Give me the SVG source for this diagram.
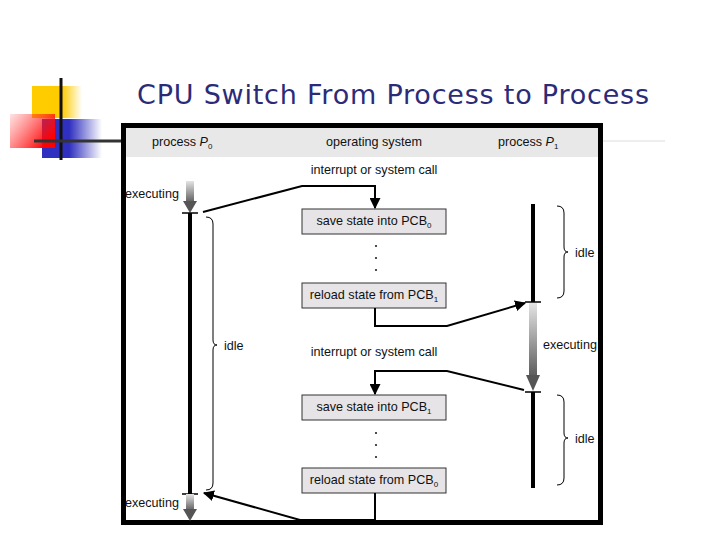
<svg xmlns="http://www.w3.org/2000/svg" width="720" height="540" viewBox="0 0 720 540">
<defs>
<style>
.t{font-family:"Liberation Sans",Arial,sans-serif;font-size:12.6px;fill:#111}
.tc{text-anchor:middle}
.box{fill:#e6e4e6;stroke:#333;stroke-width:1}
.conn{fill:none;stroke:#000;stroke-width:2}
.tl{stroke:#000;stroke-width:4}
.tick{stroke:#000;stroke-width:1.5}
.br{fill:none;stroke:#000;stroke-width:1}
.bar{fill:url(#gbar)}
.head{fill:#555}
</style>
<linearGradient id="gbar" x1="0" y1="0" x2="0" y2="1">
<stop offset="0" stop-color="#e4e4e4"/><stop offset="1" stop-color="#5a5a5a"/>
</linearGradient>
<linearGradient id="gy" x1="0" y1="0" x2="1" y2="0">
<stop offset="0" stop-color="#ffcc00"/><stop offset="0.6" stop-color="#ffcc00"/><stop offset="1" stop-color="#ffcc00" stop-opacity="0"/>
</linearGradient>
<linearGradient id="gb" x1="0" y1="0" x2="1" y2="0">
<stop offset="0" stop-color="#2f2fc0"/><stop offset="0.45" stop-color="#2f2fc0"/><stop offset="1" stop-color="#2f2fc0" stop-opacity="0"/>
</linearGradient>
<linearGradient id="gr" x1="0" y1="0" x2="1" y2="0.6">
<stop offset="0" stop-color="#ff4040" stop-opacity="0.15"/><stop offset="1" stop-color="#ff0000"/>
</linearGradient>
<marker id="ah" viewBox="0 0 10 10" refX="9" refY="5" markerWidth="5.5" markerHeight="5.5" orient="auto" markerUnits="strokeWidth">
<path d="M0,0 L10,5 L0,10 Z" fill="#000"/>
</marker>
</defs>
<rect width="720" height="540" fill="#fff"/>
<g id="logo">
<rect x="32" y="86" width="50" height="32" fill="url(#gy)"/>
<rect x="42" y="119" width="60" height="39" fill="url(#gb)"/>
<rect x="10" y="114" width="45" height="34" fill="url(#gr)"/>
<line x1="61" y1="78" x2="61" y2="160" stroke="#111" stroke-width="3"/>
<line x1="34" y1="141" x2="122" y2="141" stroke="#333" stroke-width="3"/>
<line x1="603" y1="141" x2="665" y2="141" stroke="#eee" stroke-width="2"/>
</g>
<text id="title" x="137" y="104" font-family="'DejaVu Sans',Verdana,sans-serif" font-size="27" fill="#2b2b78" textLength="512">CPU Switch From Process to Process</text>
<g id="frame">
<rect x="126" y="128" width="472" height="29" fill="#e8e8e8"/>
<rect x="123.5" y="125.5" width="477" height="397" fill="none" stroke="#000" stroke-width="5"/>
<text class="t" x="152" y="146">process <tspan font-style="italic">P</tspan><tspan font-size="8" dy="3">0</tspan></text>
<text class="t tc" x="374" y="146">operating system</text>
<text class="t" x="498" y="146">process <tspan font-style="italic">P</tspan><tspan font-size="8" dy="3">1</tspan></text>
</g>
<g id="p0">
<rect class="bar" x="186" y="181" width="8" height="22"/>
<polygon class="head" points="183,201 197,201 190,213"/>
<line class="tick" x1="182" y1="213" x2="198" y2="213"/>
<line class="tl" x1="190" y1="213" x2="190" y2="494"/>
<line class="tick" x1="182" y1="494" x2="198" y2="494"/>
<rect class="bar" x="186" y="494" width="8" height="17"/>
<polygon class="head" points="183,509 197,509 190,521"/>
<text class="t" x="125" y="198">executing</text>
<text class="t" x="125" y="507">executing</text>
<path class="br" d="M206,217 Q213,217 213,224 L213,340 Q213,345 217,345 Q213,345 213,350 L213,483 Q213,490 206,490"/>
<text class="t" x="224" y="350">idle</text>
</g>
<g id="p1">
<line class="tl" x1="533" y1="204" x2="533" y2="302"/>
<line class="tick" x1="525" y1="302" x2="541" y2="302"/>
<rect class="bar" x="529" y="303" width="8" height="74"/>
<polygon class="head" points="526,375 540,375 533,391"/>
<line class="tick" x1="525" y1="392" x2="541" y2="392"/>
<line class="tl" x1="533" y1="392" x2="533" y2="488"/>
<text class="t" x="543" y="349">executing</text>
<path class="br" d="M557,206 Q564,206 564,213 L564,247 Q564,252 568,252 Q564,252 564,257 L564,291 Q564,298 557,298"/>
<text class="t" x="575" y="257">idle</text>
<path class="br" d="M557,395 Q564,395 564,402 L564,433 Q564,438 568,438 Q564,438 564,443 L564,478 Q564,485 557,485"/>
<text class="t" x="575" y="443">idle</text>
</g>
<g id="os">
<text class="t tc" x="374" y="174">interrupt or system call</text>
<g id="save0"><rect class="box" x="302" y="209" width="144" height="25"/>
<text class="t tc" x="374" y="225">save state into PCB<tspan font-size="8" dy="3">0</tspan></text></g>
<g fill="#222"><circle cx="376" cy="246" r="1.1"/><circle cx="376" cy="258" r="1.1"/><circle cx="376" cy="270" r="1.1"/></g>
<g id="reload1"><rect class="box" x="302" y="283" width="144" height="25"/>
<text class="t tc" x="374" y="299">reload state from PCB<tspan font-size="8" dy="3">1</tspan></text></g>
<text class="t tc" x="374" y="356">interrupt or system call</text>
<g id="save1"><rect class="box" x="302" y="395" width="144" height="25"/>
<text class="t tc" x="374" y="411">save state into PCB<tspan font-size="8" dy="3">1</tspan></text></g>
<g fill="#222"><circle cx="376" cy="433" r="1.1"/><circle cx="376" cy="445" r="1.1"/><circle cx="376" cy="457" r="1.1"/></g>
<g id="reload0"><rect class="box" x="302" y="468" width="144" height="25"/>
<text class="t tc" x="374" y="484">reload state from PCB<tspan font-size="8" dy="3">0</tspan></text></g>
</g>
<g id="connectors">
<path class="conn" d="M203,212 L302,186 L375,186 L375,208" marker-end="url(#ah)"/>
<path class="conn" d="M375,308 L375,326 L447,326 L525,303" marker-end="url(#ah)"/>
<path class="conn" d="M524,390 L447,371 L375,371 L375,394" marker-end="url(#ah)"/>
<path class="conn" d="M375,493 L375,520 L300,520 L204,493" marker-end="url(#ah)"/>
</g>
</svg>
